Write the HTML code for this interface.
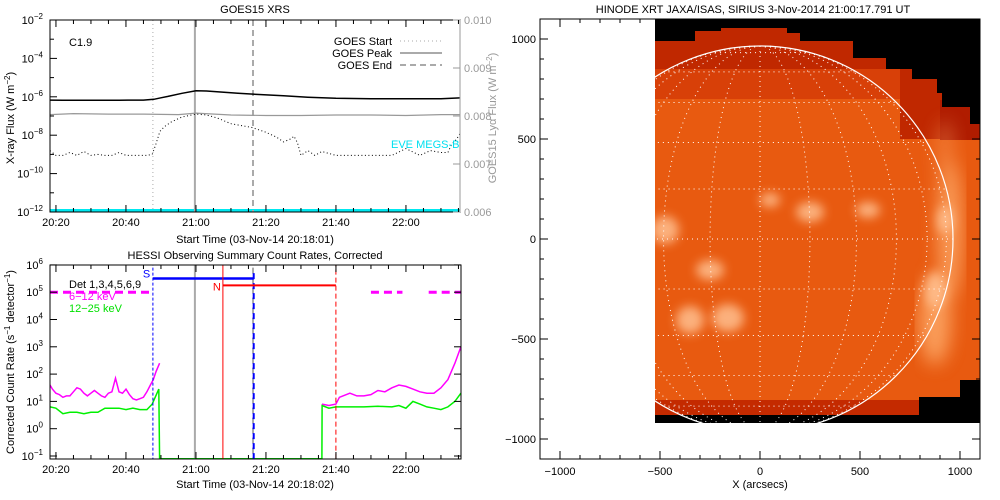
<!DOCTYPE html>
<html><head><meta charset="utf-8"><style>
body{margin:0;background:#fff;}
svg{display:block;font-family:"Liberation Sans",sans-serif;}
text{font-size:11px;}
</style></head><body>
<svg id="chart" width="1000" height="500" viewBox="0 0 1000 500" xmlns="http://www.w3.org/2000/svg">
<defs>
<filter id="blur"><feGaussianBlur stdDeviation="5"/></filter>
<filter id="blur2"><feGaussianBlur stdDeviation="9"/></filter>
<clipPath id="imgclip"><polygon points="655,41 695,41 695,31 721,31 721,28 787,28 787,33 800,33 800,41 853,41 853,58 886,58 886,69 912,69 912,79 937,79 937,93 942,93 942,107 970,107 970,124 980,124 980,380 960,380 960,397 919,397 919,423 655,423"/></clipPath>
<clipPath id="clipTop"><rect x="50" y="20" width="410" height="192"/></clipPath>
<clipPath id="clipBot"><rect x="50" y="265" width="411" height="194"/></clipPath>
</defs>
<g id="goes"></g>
<g id="hessi"></g>
<g id="xrt">
 <rect x="655" y="19" width="325" height="404" fill="#000"/>
 <g clip-path="url(#imgclip)">
  <rect x="655" y="19" width="325" height="404" fill="#e85a10"/>
  <rect x="655" y="19" width="325" height="50" fill="#c02800"/>
  <rect x="655" y="69" width="325" height="30" fill="#d84008"/>
  <rect x="900" y="69" width="80" height="70" fill="#c02800"/>
  <rect x="940" y="100" width="40" height="40" fill="#b01c00"/>
  <rect x="655" y="400" width="270" height="15" fill="#c42a00"/>
  <rect x="655" y="415" width="264" height="8" fill="#000"/>
  <g filter="url(#blur2)" fill="#ffb070" opacity="0.8">
   <ellipse cx="950" cy="230" rx="12" ry="70"/>
   <ellipse cx="935" cy="320" rx="16" ry="45"/>
   <ellipse cx="945" cy="150" rx="8" ry="30" opacity="0.5"/>
  </g>
  <g filter="url(#blur)" fill="#ffc090" opacity="0.85">
   <ellipse cx="810" cy="212" rx="14" ry="10"/><ellipse cx="868" cy="210" rx="12" ry="8"/>
   <ellipse cx="665" cy="230" rx="14" ry="14"/><ellipse cx="710" cy="270" rx="14" ry="10"/>
   <ellipse cx="728" cy="318" rx="16" ry="14"/><ellipse cx="935" cy="290" rx="10" ry="18"/>
   <ellipse cx="770" cy="200" rx="10" ry="7"/><ellipse cx="945" cy="220" rx="8" ry="14"/>
   <ellipse cx="690" cy="320" rx="14" ry="14"/>
  </g>
  <circle cx="760" cy="239" r="193" fill="none" stroke="#fff" stroke-width="1.2"/>
  <g id="grid" stroke="#fff" stroke-width="1" stroke-dasharray="1 4" fill="none"></g>
 </g>
</g>
</svg>
<script>
// ---- GOES data (t = minutes after 20:00) ----
const goesTimes = [18.3,22,26,30,34,38,42,45,48,50,52,56,60,63,66,72,78,85,92,100,110,120,130,135.7];
const goesLong  = [-6.17,-6.18,-6.18,-6.18,-6.18,-6.18,-6.17,-6.17,-6.13,-6.05,-5.98,-5.82,-5.69,-5.7,-5.74,-5.82,-5.88,-5.95,-6.02,-6.08,-6.1,-6.1,-6.1,-6.05];
const shortTimes = [18.3,20,22,24,26,28,30,32,34,36,38,40,42,44,46,47.5,48.5,49.7,51,53,56,60,63,66,70,73,76,80,83,85,87,88,89,90,92,94,96,100,104,108,112,116,120,124,127,130,132,133,134.5,135.7];
const goesShort  = [-8.8,-9.05,-9.05,-8.9,-9.05,-8.85,-9.05,-9.0,-9.05,-9.05,-8.9,-9.05,-9.05,-9.05,-9.05,-9.0,-8.5,-7.8,-7.55,-7.3,-7.05,-6.9,-6.95,-7.1,-7.4,-7.5,-7.6,-7.85,-8.1,-8.35,-8.2,-8.05,-8.4,-9.05,-8.8,-9.05,-8.85,-9.05,-9.05,-9.05,-9.05,-9.05,-8.7,-9.05,-8.8,-8.9,-8.9,-8.5,-8.2,-7.85];
const lyaTimes = [18.3,25,35,45,55,60,70,80,90,100,110,120,130,135.7];
const goesLya  = [0.00803,0.00805,0.00804,0.00804,0.00803,0.00806,0.00802,0.00801,0.00801,0.00802,0.00802,0.00801,0.00803,0.00803];
const goesEvents = [47.7, 59.7, 76.3]; // start, peak, end
const goesYTicks = [-2,-4,-6,-8,-10,-12];
const lyaTicks = ["0.010","0.009","0.008","0.007","0.006"];
const timeTickLabels = ["20:20","20:40","21:00","21:20","21:40","22:00"];
const timeTickValues = [20,40,60,80,100,120];
// ---- HESSI data (null = data gap) ----
const magTimes = [18.3,19,20,21,22,23,24,25,26,27,28,29,30,31,32,33,34,35,36,37,38,39,40,41,42,43,44,45,46,47,47.8,48.6,49.6,50,96,98,100,101,102,104,106,108,110,112,114,116,118,120,122,124,126,128,130,132,134,135.7];
const hessiMag = [1.6,1.45,1.3,1.25,1.15,1.2,1.2,1.35,1.5,1.45,1.3,1.2,1.3,1.4,1.3,1.2,1.15,1.3,1.35,1.85,1.35,1.3,1.45,1.25,1.1,1.05,1.1,1.15,1.35,1.6,1.8,2.1,2.4,null,0.9,0.85,0.9,1.15,1.2,1.3,1.2,1.2,1.25,1.4,1.35,1.5,1.6,1.55,1.45,1.35,1.3,1.3,1.5,1.8,2.4,3.0];
const greenTimes = [18.3,20,22,24,26,28,30,32,34,36,38,40,42,44,46,47.5,49.4,49.6,96,96.05,98,100,104,108,112,116,118,120,122,124,126,128,130,132,134,135.7];
const hessiGreen = [0.8,0.75,0.55,0.6,0.6,0.55,0.6,0.6,0.75,0.75,0.75,0.7,0.75,0.7,0.7,0.9,1.45,-1.1,-1.1,0.85,0.75,0.8,0.8,0.8,0.82,0.8,0.85,0.75,1.0,0.9,0.8,0.75,0.7,0.8,1.0,1.3];
const hessiYTicks = [6,5,4,3,2,1,0,-1];
const attenS = [47.7, 76.5, 5.5];  // start, end, log level
const attenN = [67.7, 100, 5.25];
const magDash = [[18.3,47.7],[110,119],[126.5,135.7]];

const NS='http://www.w3.org/2000/svg';
function mk(parent,tag,attrs,txt){const e=document.createElementNS(NS,tag);for(const k in attrs)e.setAttribute(k,attrs[k]);if(txt!==undefined)e.textContent=txt;parent.appendChild(e);return e;}
function xT(t){return 50+(t-18.3)*3.5;}
function yG(l){return 212-(l+12)*19.2;}
function yL(v){return 212-(v-0.006)/0.004*192;}
function yH(l){return 456-(l+1)*27.3;}
function sup(p,x,y,base,ex,anchor){const t=mk(p,'text',{x:x,y:y,'text-anchor':anchor||'end'});t.textContent=base;mk(t,'tspan',{dy:-5,'font-size':8},ex);return t;}
function pl(p,xs,ys,fx,fy,attrs){let d='',pen=false;xs.forEach((t,i)=>{const v=ys[i];if(v===null){pen=false;return;}d+=(pen?'L':'M')+fx(t).toFixed(1)+','+fy(v).toFixed(1);pen=true;});
 return mk(p,'path',Object.assign({d:d,fill:'none'},attrs));}

// ===== GOES panel =====
const g=document.getElementById('goes');
let tt=mk(g,'text',{x:255,y:13,'text-anchor':'middle','font-size':12},'GOES15 XRS');

const gc=mk(g,'g',{'clip-path':'url(#clipTop)'});
let cy=mk(gc,'line',{x1:50,x2:460,y1:210.5,y2:210.5,stroke:'#00e8f0','stroke-width':3});

const evStyles=[{d:'1 3'},{d:''},{d:'6 4'}];
goesEvents.forEach((t,i)=>{const l=mk(gc,'line',{x1:xT(t),x2:xT(t),y1:20,y2:212,stroke:'#aaa','stroke-width':i==0?1:2,'stroke-dasharray':evStyles[i].d});
 });
let lya=pl(gc,lyaTimes,goesLya,xT,yL,{stroke:'#999','stroke-width':1.2});

let lng=pl(gc,goesTimes,goesLong,xT,yG,{stroke:'#000','stroke-width':1.5});

let sh=pl(gc,shortTimes,goesShort,xT,yG,{stroke:'#000','stroke-width':1,'stroke-dasharray':'1 2.5'});

mk(g,'rect',{x:50,y:20,width:410,height:192,fill:'none',stroke:'#000'});
mk(g,'line',{x1:460,x2:460,y1:20,y2:212,stroke:'#999'});
goesYTicks.forEach(e=>{const y=yG(e);mk(g,'line',{x1:50,x2:57,y1:y,y2:y,stroke:'#000'});
 if(e>-12){mk(g,'line',{x1:50,x2:54,y1:yG(e-1),y2:yG(e-1),stroke:'#000'});}
 const t=sup(g,43,y+4,'10','−'+(-e));});
lyaTicks.forEach((s,i)=>{const v=parseFloat(s);const y=yL(v);mk(g,'line',{x1:453,x2:460,y1:y,y2:y,stroke:'#999'});
 const t=mk(g,'text',{x:464,y:y+4,fill:'#999'},s);});
function timeAxis(p,top,bot,label,lbly){
 for(let m=20;m<=135;m+=5){const x=xT(m);const len=(m%20==0)?7:4;mk(p,'line',{x1:x,x2:x,y1:bot,y2:bot-len,stroke:'#000'});mk(p,'line',{x1:x,x2:x,y1:top,y2:top+len,stroke:'#000'});}
 timeTickValues.forEach((v,i)=>{const t=mk(p,'text',{x:xT(v),y:bot+14,'text-anchor':'middle'},timeTickLabels[i]);});
 const a=mk(p,'text',{x:255,y:lbly,'text-anchor':'middle'},label);}
timeAxis(g,20,212,'Start Time (03-Nov-14 20:18:01)',243);
let yt=mk(g,'text',{transform:'translate(14,118) rotate(-90)','text-anchor':'middle'});yt.textContent='X-ray Flux (W m';mk(yt,'tspan',{dy:-4,'font-size':8},'−2');mk(yt,'tspan',{dy:4},')');

let yr=mk(g,'text',{transform:'translate(496,118) rotate(-90)','text-anchor':'middle',fill:'#999'});yr.textContent='GOES15 Lyα Flux (W m';mk(yr,'tspan',{dy:-4,'font-size':8},'−2');mk(yr,'tspan',{dy:4},')');

let c19=mk(g,'text',{x:69,y:46},'C1.9');
let eve=mk(g,'text',{x:391,y:148,fill:'#00e0f0'},'EVE MEGS-B');
['GOES Start','GOES Peak','GOES End'].forEach((s,i)=>{const y=45+i*12;const t=mk(g,'text',{x:392,y:y,'text-anchor':'end'},s);
 
 mk(g,'line',{x1:400,x2:442,y1:y-4,y2:y-4,stroke:'#aaa','stroke-width':i==0?1:2,'stroke-dasharray':evStyles[i].d});});

// ===== HESSI panel =====
const h=document.getElementById('hessi');
let ht=mk(h,'text',{x:255,y:259,'text-anchor':'middle','font-size':12},'HESSI Observing Summary Count Rates, Corrected');

const hc=mk(h,'g',{'clip-path':'url(#clipBot)'});
magDash.forEach(d=>{const l=mk(hc,'line',{x1:xT(d[0]),x2:xT(d[1]),y1:yH(5),y2:yH(5),stroke:'#f0f','stroke-width':3,'stroke-dasharray':'8 5'});
 });
let gp=pl(hc,[59.7,59.7],[7,-2],xT,yH,{stroke:'#aaa','stroke-width':2});
let ge=pl(hc,[76.3,76.3],[7,-2],xT,yH,{stroke:'#aaa','stroke-width':2,'stroke-dasharray':'6 4'});
let mg=pl(hc,magTimes,hessiMag,xT,yH,{stroke:'#f0f','stroke-width':1.5});
let gr=pl(hc,greenTimes,hessiGreen,xT,yH,{stroke:'#00f000','stroke-width':1.5});
let bs=pl(hc,[attenS[0],attenS[0]],[7,-2],xT,yH,{stroke:'#00f','stroke-width':1,'stroke-dasharray':'3 2'});
let bh=pl(hc,[attenS[0],attenS[1]],[attenS[2],attenS[2]],xT,yH,{stroke:'#00f','stroke-width':2.5});
let be=pl(hc,[attenS[1],attenS[1]],[attenS[2]+0.2,-2],xT,yH,{stroke:'#00f','stroke-width':2,'stroke-dasharray':'6 4'});
let rs=pl(hc,[attenN[0],attenN[0]],[7,-2],xT,yH,{stroke:'#f00','stroke-width':1});
let rh=pl(hc,[attenN[0],attenN[1]],[attenN[2],attenN[2]],xT,yH,{stroke:'#f00','stroke-width':2});
let re=pl(hc,[attenN[1],attenN[1]],[7,-2],xT,yH,{stroke:'#f00','stroke-width':1,'stroke-dasharray':'5 3'});
let sl=mk(h,'text',{x:xT(attenS[0])-10,y:yH(attenS[2])-1,fill:'#00f','font-size':10},'S');
let nl=mk(h,'text',{x:xT(attenN[0])-10,y:yH(attenN[2])+5,fill:'#f00','font-size':10},'N');
mk(h,'rect',{x:50,y:265,width:411,height:194,fill:'none',stroke:'#000'});
hessiYTicks.forEach(e=>{const y=yH(e);mk(h,'line',{x1:50,x2:57,y1:y,y2:y,stroke:'#000'});mk(h,'line',{x1:461,x2:454,y1:y,y2:y,stroke:'#000'});
 const t=sup(h,43,y+4,'10',e<0?'−'+(-e):String(e));});
timeAxis(h,265,459,'Start Time (03-Nov-14 20:18:02)',488);
let hy=mk(h,'text',{transform:'translate(14,362) rotate(-90)','text-anchor':'middle'});hy.textContent='Corrected Count Rate (s';mk(hy,'tspan',{dy:-4,'font-size':8},'−1');mk(hy,'tspan',{dy:4},' detector');mk(hy,'tspan',{dy:-4,'font-size':8},'−1');mk(hy,'tspan',{dy:4},')');

let l1=mk(h,'text',{x:69,y:288},'Det 1,3,4,5,6,9');
let l2=mk(h,'text',{x:69,y:300,fill:'#f0f'},'6−12 keV');
let l3=mk(h,'text',{x:69,y:312,fill:'#00e000'},'12−25 keV');

// ===== XRT panel =====
const xr=document.getElementById('xrt');
function xA(a){return 760+a*0.2;} function yA(a){return 239-a*0.2;}
const grid=document.getElementById('grid');
for(let lat=-75;lat<=75;lat+=15){const y=239-193*Math.sin(lat*Math.PI/180);const hw=193*Math.cos(lat*Math.PI/180);mk(grid,'line',{x1:760-hw,x2:760+hw,y1:y,y2:y});}
for(let lon=-75;lon<=75;lon+=15){const rx=Math.abs(193*Math.sin(lon*Math.PI/180));
 if(rx<1)mk(grid,'line',{x1:760,x2:760,y1:46,y2:432});else{const s=lon>0?1:0;mk(grid,'path',{d:`M760,46 A${rx},193 0 0 ${s} 760,432`});}}
const tl=mk(xr,'text',{x:753,y:13,'text-anchor':'middle','font-size':12},'HINODE XRT JAXA/ISAS, SIRIUS   3-Nov-2014 21:00:17.791 UT');
tl.setAttribute('xml:space','preserve');
mk(xr,'rect',{x:540,y:19,width:440,height:440,fill:'none',stroke:'#000'});
const arcTicks=[-1000,-500,0,500,1000];
for(let a=-1000;a<=1000;a+=100){const x=xA(a),y=yA(a);const L=(a%500==0)?8:4;
 mk(xr,'line',{x1:x,x2:x,y1:459,y2:459-L,stroke:'#000'});mk(xr,'line',{x1:x,x2:x,y1:19,y2:19+L,stroke:'#000'});
 mk(xr,'line',{x1:540,x2:540+L,y1:y,y2:y,stroke:'#000'});mk(xr,'line',{x1:980,x2:980-L,y1:y,y2:y,stroke:'#000'});}
arcTicks.forEach(a=>{const s=a<0?'−'+(-a):String(a);
 const t1=mk(xr,'text',{x:xA(a),y:475,'text-anchor':'middle'},s);
 const t2=mk(xr,'text',{x:536,y:yA(a)+4,'text-anchor':'end'},s);});
const xl=mk(xr,'text',{x:760,y:488,'text-anchor':'middle'},'X (arcsecs)');
</script>
</body></html>
